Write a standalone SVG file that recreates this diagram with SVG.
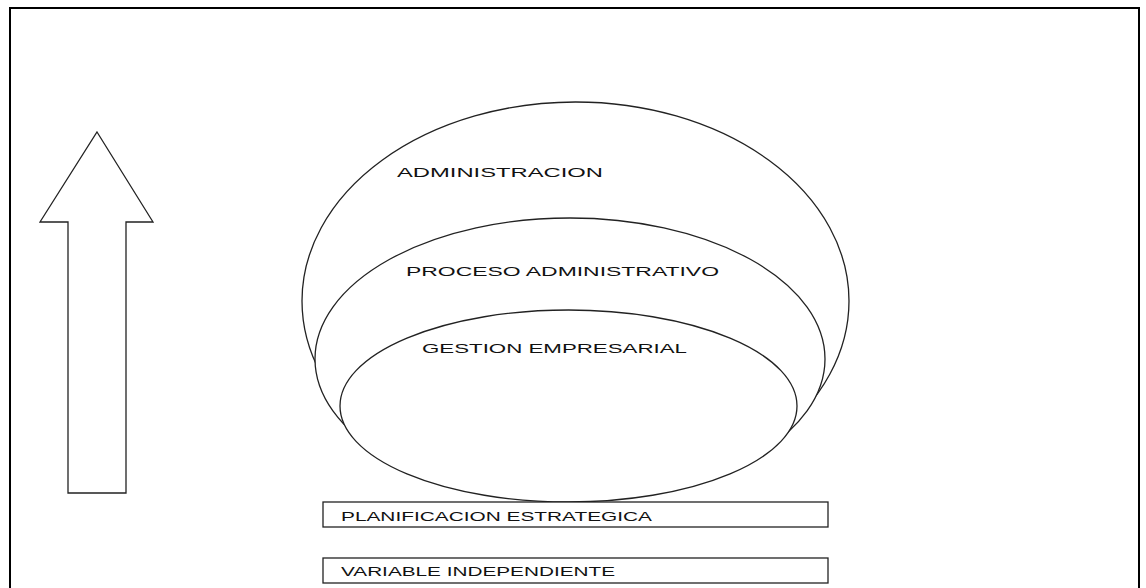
<svg xmlns="http://www.w3.org/2000/svg" width="1146" height="588" viewBox="0 0 1146 588">
<style>
.ln{fill:#fff;stroke:#222;stroke-width:1.3}
.t{font-family:"Liberation Sans",Arial,sans-serif;font-size:13px;fill:#111}
</style>
<rect x="0" y="0" width="1146" height="588" fill="#fff"/>
<rect x="10" y="8" width="1129" height="600" fill="none" stroke="#000" stroke-width="2"/>
<g id="arrow">
<polygon class="ln" points="97,132 153,222 126,222 126,493 68,493 68,222 40,222"/>
</g>
<g id="administracion">
<ellipse class="ln" cx="575.5" cy="301" rx="273.5" ry="199"/>
<text class="t" x="397" y="177" textLength="206" lengthAdjust="spacingAndGlyphs">ADMINISTRACION</text>
</g>
<g id="proceso">
<ellipse class="ln" cx="570" cy="359" rx="255" ry="141"/>
<text class="t" x="406" y="276" textLength="313" lengthAdjust="spacingAndGlyphs">PROCESO ADMINISTRATIVO</text>
</g>
<g id="gestion">
<ellipse class="ln" cx="568.5" cy="406" rx="228.5" ry="96"/>
<text class="t" x="422" y="353" textLength="265" lengthAdjust="spacingAndGlyphs">GESTION EMPRESARIAL</text>
</g>
<g id="planificacion">
<rect class="ln" x="323" y="502" width="505" height="25"/>
<text class="t" x="341" y="521" textLength="311" lengthAdjust="spacingAndGlyphs">PLANIFICACION ESTRATEGICA</text>
</g>
<g id="variable">
<rect class="ln" x="323" y="558" width="505" height="25"/>
<text class="t" x="341" y="576" textLength="274" lengthAdjust="spacingAndGlyphs">VARIABLE INDEPENDIENTE</text>
</g>
<g id="connectors"/>
</svg>
